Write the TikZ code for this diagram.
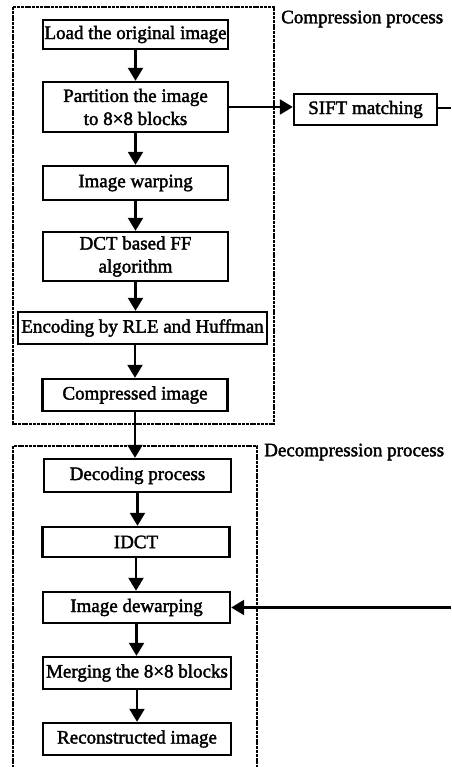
\documentclass[tikz,border=0pt]{standalone}
\usepackage{fontspec}
\setmainfont{Liberation Serif}[FakeBold=2]
\usetikzlibrary{arrows.meta}

\tikzset{
  txt/.style={font=\fontsize{19pt}{23pt}\selectfont, inner sep=0pt},
  stepbox/.style={txt, draw, line width=2.4pt, align=center},
  flow/.style={line width=2.2pt, -{Triangle[width=15pt,length=13pt]}},
  link/.style={line width=2.2pt},
  groupframe/.style={line width=2.6pt, dash pattern=on 3pt off 0.8pt},
}

\begin{document}
\begin{tikzpicture}[x=1pt,y=-1pt]
\useasboundingbox (0,0) rectangle (451,767);

% frame of the compression stage
\draw[groupframe] (13,7) rectangle (274,424);
\node[txt, anchor=west] (clabel) at (281,19) {Compression process};

% frame of the decompression stage (runs off the bottom edge)
\draw[groupframe] (13,772) -- (13,446) -- (257,446) -- (257,772);
\node[txt, anchor=west] (dlabel) at (264,452) {Decompression process};

% compression steps
\node[stepbox, minimum width=185pt, minimum height=29pt] (load) at (135.5,34.5) {Load the original image};
\node[stepbox, minimum width=185pt, minimum height=50pt] (part) at (135.5,107) {Partition the image\\to 8×8 blocks};
\node[stepbox, minimum width=185pt, minimum height=34pt] (warp) at (135.5,183) {Image warping};
\node[stepbox, minimum width=185pt, minimum height=49pt] (dct) at (135.5,256.5) {DCT based FF\\algorithm};
\node[stepbox, minimum width=249pt, minimum height=32pt] (enc) at (142.5,328) {Encoding by RLE and Huffman};
\node[stepbox, minimum width=185pt, minimum height=32pt] (comp) at (135,395) {Compressed image};

% feature matching
\node[stepbox, minimum width=143pt, minimum height=31pt] (sift) at (365.5,109.5) {SIFT matching};

% decompression steps
\node[stepbox, minimum width=187pt, minimum height=33pt] (dec) at (137.5,475.5) {Decoding process};
\node[stepbox, minimum width=187pt, minimum height=30pt] (idct) at (136,542) {IDCT};
\node[stepbox, minimum width=187pt, minimum height=31pt] (dewarp) at (136.5,607.5) {Image dewarping};
\node[stepbox, minimum width=188pt, minimum height=32pt] (merge) at (137,673) {Merging the 8×8 blocks};
\node[stepbox, minimum width=188pt, minimum height=32pt] (recon) at (137,739) {Reconstructed image};

% ends of the side link at the right edge
\coordinate (sideout) at (451,108);
\coordinate (sidein) at (451,607.5);

% connectors
\draw[flow] (load.south) -- (load.south |- part.north);
\draw[flow] (part.south) -- (part.south |- warp.north);
\draw[flow] (warp.south) -- (warp.south |- dct.north);
\draw[flow] (dct.south) -- (dct.south |- enc.north);
\draw[flow] (enc.south -| comp.north) -- (comp.north);
\draw[flow] (comp.south) -- (comp.south |- dec.north);
\draw[flow] (dec.south) -- (dec.south |- idct.north);
\draw[flow] (idct.south) -- (idct.south |- dewarp.north);
\draw[flow] (dewarp.south) -- (dewarp.south |- merge.north);
\draw[flow] (merge.south) -- (merge.south |- recon.north);

\draw[flow] (part.east) -- (part.east -| sift.west);
\draw[link] (sift.east |- sideout) -- (sideout);
\draw[flow] (sidein) -- (dewarp.east);
\end{tikzpicture}
\end{document}
